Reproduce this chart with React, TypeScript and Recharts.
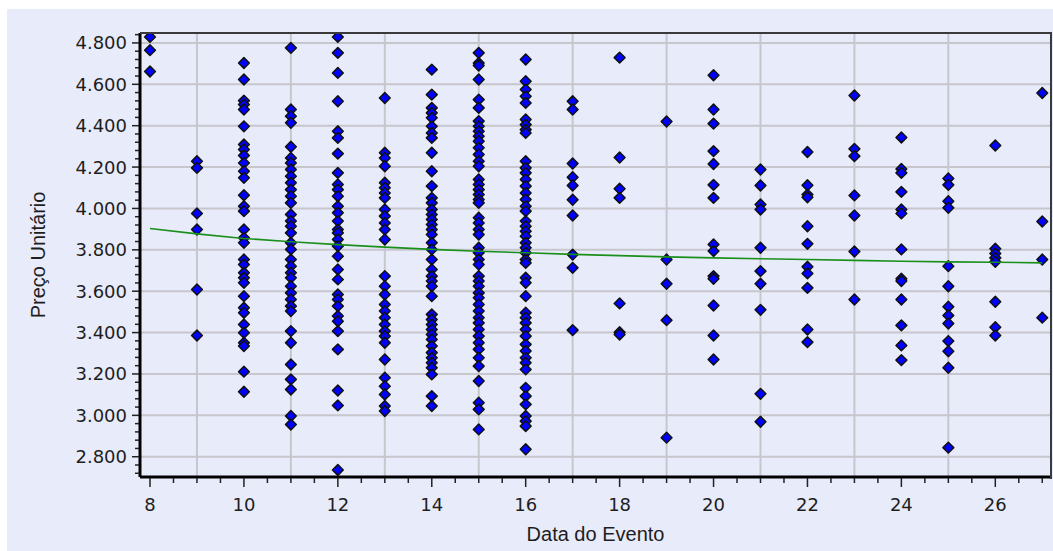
import React from "react";
import {
  ScatterChart,
  Scatter,
  XAxis,
  YAxis,
  ReferenceLine,
} from "recharts";

// preço unitário por dia do evento
const dia08 = [4.829, 4.765, 4.662];
const dia09 = [4.228, 4.196, 3.976, 3.898, 3.608, 3.386];
const dia10 = [4.703, 4.623, 4.521, 4.502, 4.478, 4.397, 4.309, 4.285, 4.256, 4.22, 4.18, 4.148, 4.064, 4.011, 3.987, 3.898, 3.858, 3.834, 3.753, 3.729, 3.689, 3.665, 3.641, 3.576, 3.52, 3.496, 3.439, 3.399, 3.351, 3.335, 3.211, 3.114];
const dia11 = [4.776, 4.478, 4.446, 4.414, 4.298, 4.244, 4.22, 4.188, 4.156, 4.124, 4.091, 4.059, 4.027, 3.971, 3.939, 3.914, 3.882, 3.834, 3.802, 3.753, 3.721, 3.689, 3.665, 3.624, 3.592, 3.56, 3.528, 3.504, 3.407, 3.351, 3.246, 3.174, 3.125, 2.997, 2.956];
const dia12 = [4.829, 4.752, 4.655, 4.518, 4.373, 4.341, 4.265, 4.172, 4.116, 4.091, 4.059, 4.011, 3.979, 3.939, 3.898, 3.882, 3.85, 3.818, 3.769, 3.705, 3.657, 3.584, 3.56, 3.528, 3.48, 3.455, 3.407, 3.319, 3.12, 3.048, 2.736];
const dia13 = [4.534, 4.269, 4.244, 4.204, 4.124, 4.1, 4.075, 4.051, 3.995, 3.963, 3.93, 3.898, 3.85, 3.673, 3.624, 3.584, 3.536, 3.504, 3.472, 3.439, 3.407, 3.383, 3.351, 3.27, 3.182, 3.141, 3.101, 3.045, 3.021];
const dia14 = [4.671, 4.55, 4.486, 4.462, 4.438, 4.397, 4.365, 4.341, 4.269, 4.18, 4.108, 4.051, 4.027, 3.995, 3.971, 3.947, 3.922, 3.898, 3.874, 3.834, 3.802, 3.753, 3.705, 3.673, 3.649, 3.624, 3.576, 3.488, 3.463, 3.439, 3.415, 3.391, 3.367, 3.335, 3.303, 3.278, 3.254, 3.23, 3.198, 3.093, 3.045];
const dia15 = [4.752, 4.703, 4.691, 4.623, 4.526, 4.486, 4.422, 4.397, 4.373, 4.349, 4.325, 4.293, 4.261, 4.228, 4.204, 4.14, 4.116, 4.091, 4.067, 4.043, 4.027, 3.955, 3.93, 3.898, 3.874, 3.81, 3.786, 3.753, 3.729, 3.673, 3.649, 3.624, 3.592, 3.568, 3.536, 3.504, 3.472, 3.447, 3.415, 3.383, 3.351, 3.319, 3.278, 3.238, 3.166, 3.061, 3.029, 2.932];
const dia16 = [4.72, 4.615, 4.575, 4.542, 4.51, 4.43, 4.405, 4.381, 4.365, 4.228, 4.196, 4.172, 4.14, 4.108, 4.075, 4.043, 4.011, 3.987, 3.939, 3.914, 3.89, 3.866, 3.834, 3.81, 3.786, 3.753, 3.737, 3.665, 3.641, 3.576, 3.496, 3.472, 3.447, 3.415, 3.383, 3.343, 3.311, 3.278, 3.254, 3.222, 3.133, 3.093, 3.053, 2.997, 2.972, 2.948, 2.836];
const dia17 = [4.518, 4.478, 4.217, 4.151, 4.111, 4.042, 3.966, 3.777, 3.713, 3.412];
const dia18 = [4.729, 4.246, 4.095, 4.051, 3.541, 3.402, 3.391];
const dia19 = [4.42, 3.753, 3.636, 3.46, 2.892];
const dia20 = [4.644, 4.478, 4.41, 4.277, 4.215, 4.114, 4.051, 3.826, 3.794, 3.673, 3.66, 3.531, 3.386, 3.27];
const dia21 = [4.188, 4.111, 4.019, 3.995, 3.81, 3.697, 3.636, 3.51, 3.104, 2.969];
const dia22 = [4.273, 4.112, 4.067, 4.054, 3.914, 3.829, 3.718, 3.686, 3.616, 3.415, 3.354];
const dia23 = [4.546, 4.288, 4.253, 4.063, 3.966, 3.792, 3.56];
const dia24 = [4.343, 4.191, 4.172, 4.08, 3.995, 3.976, 3.802, 3.66, 3.649, 3.56, 3.435, 3.338, 3.267];
const dia25 = [4.145, 4.114, 4.035, 4.003, 3.721, 3.624, 3.525, 3.483, 3.444, 3.359, 3.31, 3.23, 2.844];
const dia26 = [4.304, 3.805, 3.782, 3.761, 3.742, 3.549, 3.426, 3.386];
const dia27 = [4.558, 3.937, 3.753, 3.472];

const dias = [8, 9, 10, 11, 12, 13, 14, 15, 16, 17, 18, 19, 20, 21, 22, 23, 24, 25, 26, 27];
const colunas = [dia08, dia09, dia10, dia11, dia12, dia13, dia14, dia15, dia16, dia17, dia18, dia19, dia20, dia21, dia22, dia23, dia24, dia25, dia26, dia27];

// linha de tendência (verde)
const tendencia = [3.903, 3.877, 3.855, 3.839, 3.825, 3.813, 3.802, 3.793, 3.786, 3.778, 3.772, 3.766, 3.761, 3.757, 3.753, 3.749, 3.745, 3.742, 3.74, 3.737];

const yMajor = [2.8, 3.0, 3.2, 3.4, 3.6, 3.8, 4.0, 4.2, 4.4, 4.6, 4.8];
const xGrid = [9, 11, 13, 15, 17, 19, 21, 23, 25];
const X_DOMAIN = [7.787, 27.186];
const Y_DOMAIN = [2.702, 4.848];

const range = (a: number, b: number, step: number) => {
  const out: number[] = [];
  for (let v = a; v <= b + 1e-9; v += step) out.push(Math.round(v * 1000) / 1000);
  return out;
};
const xTicks = range(8, 27, 0.5);
const yTicks = range(2.72, 4.84, 0.04);

const pontos = dias.flatMap((d, i) => colunas[i].map((y) => ({ x: d, y })));
const linha = dias.map((d, i) => ({ x: d, y: tendencia[i] }));

const BG = "#e8ebfa";
const TXT = "#1e1e1e";
const FRAME = "#3a3a3a";

// dimensões do gráfico e da área de plotagem
const W = 1046;
const H = 542;
const MARGIN = { top: 24, right: 2, bottom: 14, left: 13 };
const Y_AXIS_W = 120;
const X_AXIS_H = 60;
const plotLeft = MARGIN.left + Y_AXIS_W;
const plotW = W - plotLeft - MARGIN.right;
const plotH = H - MARGIN.top - MARGIN.bottom - X_AXIS_H;

const Diamond = (props: any) => {
  const { cx, cy } = props;
  if (cx == null || cy == null) return <g />;
  const r = 5.4;
  return (
    <polygon
      points={`${cx},${cy - r} ${cx + r},${cy} ${cx},${cy + r} ${cx - r},${cy}`}
      fill="#0000ff"
      stroke="#111"
      strokeWidth={1.5}
      strokeLinejoin="round"
    />
  );
};

const XTick = (props: any) => {
  const { x, y, payload } = props;
  const v = payload.value;
  const major = v % 2 === 0;
  return (
    <g>
      <line x1={x} x2={x} y1={y + 1} y2={y + (major ? 10 : 6)} stroke="#222" strokeWidth={1.5} />
      {major && (
        <text x={x} y={y + 34} textAnchor="middle" fill={TXT} fontSize={18} fontFamily="DejaVu Sans">
          {v}
        </text>
      )}
    </g>
  );
};

const YTick = (props: any) => {
  const { x, y, payload } = props;
  const v = payload.value;
  const major = yMajor.some((m) => Math.abs(m - v) < 1e-6);
  return (
    <g>
      <line x1={x - 1} x2={x - (major ? 8 : 5)} y1={y} y2={y} stroke="#222" strokeWidth={1.5} />
      {major && (
        <text x={x - 13} y={y + 6.5} textAnchor="end" fill={TXT} fontSize={18} fontFamily="DejaVu Sans">
          {v.toFixed(3)}
        </text>
      )}
    </g>
  );
};

export default function App() {
  return (
    <div style={{ position: "absolute", left: 7, top: 9, width: W, height: H, background: BG }}>
      <ScatterChart width={W} height={H} margin={MARGIN}>
        {yMajor.map((v) => (
          <ReferenceLine key={"h" + v} y={v} stroke="#c6c6cc" strokeWidth={2} />
        ))}
        {xGrid.map((v) => (
          <ReferenceLine key={"v" + v} x={v} stroke="#c6c6cc" strokeWidth={2} />
        ))}
        <XAxis
          type="number"
          dataKey="x"
          domain={X_DOMAIN}
          allowDataOverflow
          ticks={xTicks}
          interval={0}
          tickSize={0}
          tickMargin={0}
          tickLine={false}
          tick={XTick}
          height={X_AXIS_H}
          axisLine={{ stroke: "#000", strokeWidth: 3 }}
          label={(p: any) => {
            const vb = p.viewBox || {};
            return (
              <text x={vb.x + vb.width / 2} y={vb.y + 64} textAnchor="middle" fill={TXT} fontSize={20} fontFamily="Liberation Sans">
                Data do Evento
              </text>
            );
          }}
        />
        <YAxis
          type="number"
          dataKey="y"
          domain={Y_DOMAIN}
          allowDataOverflow
          ticks={yTicks}
          interval={0}
          tickSize={0}
          tickMargin={0}
          tickLine={false}
          tick={YTick}
          width={Y_AXIS_W}
          axisLine={{ stroke: "#000", strokeWidth: 3 }}
          label={(p: any) => {
            const vb = p.viewBox || {};
            const cx = vb.x + 25;
            const cy = vb.y + vb.height / 2;
            return (
              <text
                x={cx}
                y={cy}
                transform={`rotate(-90 ${cx} ${cy})`}
                textAnchor="middle"
                fill={TXT}
                fontSize={20}
                fontFamily="Liberation Sans"
              >
                Preço Unitário
              </text>
            );
          }}
        />
        <Scatter data={pontos} shape={Diamond} isAnimationActive={false} />
        <Scatter
          data={linha}
          line={{ stroke: "#1a8f1a", strokeWidth: 1.6 }}
          shape={() => <g />}
          isAnimationActive={false}
        />
      </ScatterChart>
      {/* moldura superior e direita da área de plotagem */}
      <div
        style={{
          position: "absolute",
          left: plotLeft,
          top: MARGIN.top - 1,
          width: plotW - 1,
          height: plotH + 1,
          borderTop: `2px solid ${FRAME}`,
          borderRight: `2px solid ${FRAME}`,
          pointerEvents: "none",
        }}
      />
    </div>
  );
}
